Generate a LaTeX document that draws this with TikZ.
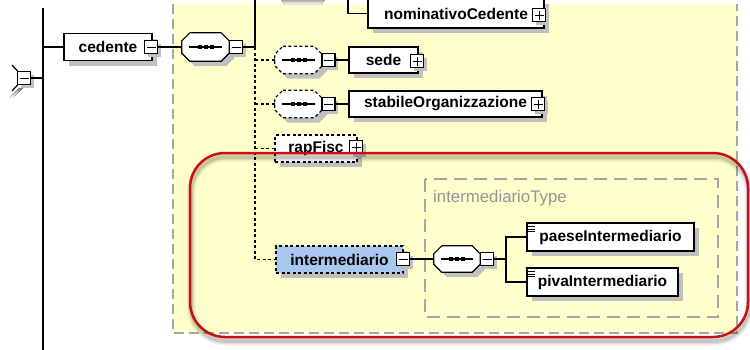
\documentclass[tikz,border=0pt]{standalone}
\usepackage{fontspec}
\setmainfont{Liberation Sans}
\usetikzlibrary{shadows}
\definecolor{panel}{RGB}{255,255,204}
\definecolor{panelrule}{RGB}{165,165,165}
\definecolor{shade}{RGB}{192,192,192}
\definecolor{selblue}{RGB}{168,200,240}
\definecolor{hilite}{RGB}{200,16,16}
\definecolor{typegray}{RGB}{150,150,150}
\tikzset{
  wire/.style={line width=1.2pt},
  optwire/.style={wire, dash pattern=on 3pt off 2.5pt},
  boxshadow/.style={drop shadow={shadow xshift=5pt, shadow yshift=-5pt, fill=shade, opacity=1}},
  elem/.style={draw, fill=white, line width=1.2pt, minimum height=27, inner sep=0pt,
    font=\fontsize{15.5}{18}\selectfont\bfseries, boxshadow},
  optelem/.style={elem, dash pattern=on 3pt off 2.5pt},
  seqc/.style={minimum width=47, minimum height=27, inner sep=0pt},
  octline/.style={draw, fill=white, line width=1.2pt, boxshadow},
  optoctline/.style={octline, dash pattern=on 3pt off 2.5pt},
  minusbox/.style={draw, fill=white, line width=1.1pt, minimum size=13, inner sep=0pt,
    drop shadow={shadow xshift=3pt, shadow yshift=-3pt, fill=shade, opacity=1},
    path picture={\draw[line width=1pt] (path picture bounding box.center) +(-4.5pt,0pt) -- +(4.5pt,0pt);}},
  plusbox/.style={minusbox,
    path picture={\draw[line width=1pt] (path picture bounding box.center) +(-4.5pt,0pt) -- +(4.5pt,0pt)
      (path picture bounding box.center) +(0pt,-4.5pt) -- +(0pt,4.5pt);}},
}
\begin{document}
\begin{tikzpicture}[x=1pt,y=-1pt]
\useasboundingbox (0,0) rectangle (750,349);
\clip (0,0) rectangle (750,349);
% complex type panel
\fill[panel] (173,4) rectangle (737,333);
\draw[panelrule, line width=1.2pt, dash pattern=on 10pt off 5pt] (173,4) -- (173,333) -- (737,333) -- (737,4);
\draw[panelrule, line width=1.2pt, dash pattern=on 13pt off 7pt] (425,179) rectangle (718,317);
\fill[shade] (280,-2) -- (326,-2) -- (322,4) -- (284,4) -- cycle;
% compositor cut off on the left
\fill[shade] (10,97) -- (19,88) -- (23,88) -- (14,97) -- cycle;
\draw[wire] (12,65) -- (17.5,71) (17.5,85) -- (12,91);
\coordinate (bustop) at (43,8);
\coordinate (busend) at (43,352);
\coordinate (fork) at (255,47);
\coordinate (forktop) at (255,-2);
\coordinate (nomtop) at (348,-2);
\coordinate (fork2) at (506,259);
\draw[wire] (bustop) -- (busend);

\path (108,47) node[elem, minimum width=88] (ced) {cedente}
  (205.5,47) node[seqc, minimum height=28] (seq1) {}
  (456,13.5) node[elem, minimum width=176, minimum height=29] (nom) {nominativoCedente}
  (298.5,60) node[seqc] (seq2) {}
  (383.5,60) node[elem, minimum width=69, minimum height=26] (sede) {sede}
  (298.5,104) node[seqc] (seq3) {}
  (445.5,104) node[elem, minimum width=193, minimum height=26] (stab) {stabileOrganizzazione}
  (316,148.5) node[optelem, minimum width=82] (rap) {rapFisc}
  (339.5,259.5) node[optelem, fill=selblue, minimum width=127] (inter) {intermediario}
  (457,259) node[seqc, minimum width=46, minimum height=26] (seq4) {}
  (610.5,237) node[elem, minimum width=167, minimum height=28] (paese) {paeseIntermediario}
  (602.5,282) node[elem, minimum width=151, minimum height=28] (piva) {pivaIntermediario}
  (433,198) node[anchor=west, inner sep=0pt, text=typegray, font=\fontsize{16.8}{20}\selectfont] (itype) {intermediarioType};

% sequence compositors
\foreach \s/\st in {seq1/octline,seq2/optoctline,seq3/optoctline,seq4/octline} {
  \path[\st] ([xshift=8pt]\s.north west) -- ([xshift=-8pt]\s.north east)
    -- ([yshift=-8pt]\s.north east) -- ([yshift=8pt]\s.south east)
    -- ([xshift=-8pt]\s.south east) -- ([xshift=8pt]\s.south west)
    -- ([yshift=8pt]\s.south west) -- ([yshift=-8pt]\s.north west) -- cycle;
  \draw[wire] ([xshift=7pt]\s.west) -- ([xshift=-7pt]\s.east);
  \foreach \d in {-6,0,6}
    \fill ([xshift=\d pt]\s.center) +(-2pt,-2pt) rectangle +(2pt,2pt);
}

\path (24,78) node[minusbox] (lmin) {}
  (151,47) node[minusbox] (cedmin) {}
  (236,47) node[minusbox] (seq1min) {}
  (539,15) node[plusbox] (nomplus) {}
  (328.5,60) node[minusbox] (seq2min) {}
  (417,61) node[plusbox] (sedeplus) {}
  (328.5,104) node[minusbox] (seq3min) {}
  (538,104) node[plusbox] (stabplus) {}
  (356,147) node[plusbox] (rapplus) {}
  (403,259) node[minusbox] (intermin) {}
  (487,259) node[minusbox] (seq4min) {};

\draw[wire] (node cs:name=lmin, anchor=east) -- (lmin -| bustop);
\draw[wire] (ced.west -| bustop) -- (node cs:name=ced, anchor=west);
\draw[wire] (node cs:name=cedmin, anchor=east) -- (node cs:name=seq1, anchor=west);
\draw[wire] (node cs:name=seq1min, anchor=east) -- (fork) -- (forktop);
\draw[wire] (nomtop) |- (node cs:name=nom, anchor=west);
\draw[optwire] (fork) |- (node cs:name=inter, anchor=west);
\draw[optwire] (fork |- seq2.west) -- (node cs:name=seq2, anchor=west);
\draw[optwire] (fork |- seq3.west) -- (node cs:name=seq3, anchor=west);
\draw[optwire] (fork |- rap.west) -- (node cs:name=rap, anchor=west);
\draw[wire] (node cs:name=seq2min, anchor=east) -- (node cs:name=sede, anchor=west);
\draw[wire] (node cs:name=seq3min, anchor=east) -- (node cs:name=stab, anchor=west);
\draw[wire] (node cs:name=intermin, anchor=east) -- (node cs:name=seq4, anchor=west);
\draw[wire] (node cs:name=seq4min, anchor=east) -- (fork2);
\draw[wire] (node cs:name=paese, anchor=west) -| (fork2) |- (node cs:name=piva, anchor=west);

% simple type icons
\foreach \n in {paese,piva}
  \foreach \k in {0,1,2}
    \draw[line width=.8pt] ([shift={(2,4+2.5*\k)}]\n.north west) -- +(7,0);

% highlight
\foreach \w/\o in {9/.06,6/.08,3.5/.1}
  \draw[black, opacity=\o, line width=\w pt, rounded corners=35pt] (191,157) rectangle (749,341);
\draw[hilite, line width=2.5pt, rounded corners=35pt] (190,153) rectangle (748,337);
\end{tikzpicture}
\end{document}
